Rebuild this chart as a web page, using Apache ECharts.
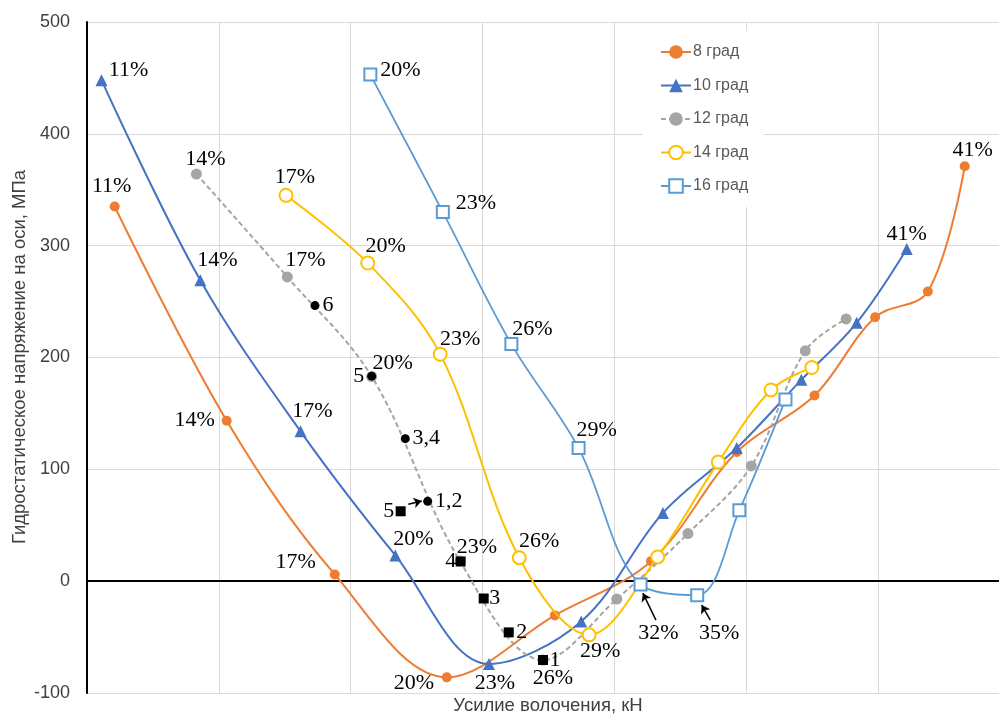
<!DOCTYPE html>
<html><head><meta charset="utf-8">
<script src="https://cdn.jsdelivr.net/npm/echarts@6/dist/echarts.min.js"></script>
<style>html,body{margin:0;padding:0;background:#fff}#c{width:999px;height:716px}</style>
</head><body><div id="c"></div>
<script>
// ---- data ----
const seriesNames = ['8 град', '10 град', '12 град', '14 град', '16 град'];

const pct8 = [11, 14, 17, 20, 23, 26, 29, 32, 35, 38, 41];
const x8 = [0.21, 1.06, 1.88, 2.73, 3.55, 4.28, 4.93, 5.52, 5.98, 6.38, 6.66];
const y8 = [335, 143.5, 6, -86, -30.6, 17.9, 115.5, 166, 236, 259, 371];

const pct10 = [11, 14, 17, 20, 23, 26, 29, 32, 35, 38, 41];
const x10 = [0.11, 0.86, 1.62, 2.34, 3.05, 3.75, 4.37, 4.93, 5.42, 5.84, 6.22];
const y10 = [448, 269, 134, 23, -74, -36, 61, 119, 180, 231, 297];

const pct12 = [14, 17, 20, 23, 26, 29, 32, 35, 38, 41];
const x12 = [0.83, 1.52, 2.16, 2.83, 3.46, 4.02, 4.56, 5.04, 5.45, 5.76];
const y12 = [364, 272, 183, 18, -70.5, -16, 42.6, 103, 206, 234.5];

const pct14 = [17, 20, 23, 26, 29, 32, 35, 38, 41];
const x14 = [1.51, 2.13, 2.68, 3.28, 3.81, 4.33, 4.79, 5.19, 5.50];
const y14 = [345, 284.5, 203, 21, -48, 21.7, 106.5, 171, 191];

const pct16 = [20, 23, 26, 29, 32, 35, 38, 41];
const x16 = [2.15, 2.70, 3.22, 3.73, 4.20, 4.63, 4.95, 5.30];
const y16 = [453, 330, 212, 119, -3, -12.5, 63.4, 162.5];

const circleNames = ['6', '5', '3,4', '1,2'];
const circleX = [1.73, 2.16, 2.415, 2.585];
const circleY = [246.4, 183.3, 127.4, 71.4];

const squareNames = ['5', '4', '3', '2', '1'];
const squareX = [2.38, 2.835, 3.01, 3.20, 3.46];
const squareY = [62.5, 17.6, -15.5, -45.8, -70.5];

const arrowFrom = [[2.438, 68.75], [4.317, -34.8], [4.73, -34.8]];
const arrowTo = [[2.54, 71.7], [4.218, -10.7], [4.664, -21.4]];

const yMin = -100, yMax = 500, yStep = 100;
const xMin = 0, xMax = 6.92, xStep = 1;

// ---- layout / style ----
const labelOffsets = {
  '8 град': {11: [-3, -20], 14: [-32, 0], 17: [-39, -12], 20: [-33, 6], 41: [8, -16]},
  '10 град': {11: [27, -10], 14: [17, -20], 17: [12, -20], 20: [18, -16], 23: [6, 19], 41: [0, -15]},
  '12 град': {14: [9, -15], 17: [18, -17], 20: [21, -13], 23: [17, -14], 26: [10, 18]},
  '14 град': {17: [9, -18], 20: [18, -17], 23: [20, -15], 26: [20, -16], 29: [11, 16]},
  '16 град': {20: [30, -4], 23: [33, -9], 26: [21, -15], 29: [18, -18], 32: [18, 49], 35: [22, 38]}
};
const circleLabelOffsets = [[13, 0], [-13, 0], [21, 0], [21, 0]];
const squareLabelOffsets = [[-12, 0], [-10, 0], [11, 0], [13, 0], [12, 0]];

const serif = "'Liberation Serif', 'Times New Roman', serif";
const sans = "'Liberation Sans', Arial, sans-serif";
const labelStyle = {fontFamily: serif, fontSize: 22, color: '#000', textBorderWidth: 0};

function buildData(name, pct, xs, ys) {
  const offs = labelOffsets[name];
  return xs.map((x, i) => {
    const off = offs[pct[i]];
    if (!off) return [x, ys[i]];
    return {value: [x, ys[i]], label: Object.assign({show: true, formatter: pct[i] + '%', position: 'inside', offset: off}, labelStyle)};
  });
}
function buildAnnot(names, xs, ys, offs) {
  return xs.map((x, i) => ({value: [x, ys[i]], label: Object.assign({show: true, formatter: names[i], position: 'inside', offset: offs[i]}, labelStyle)}));
}

const styles = [
  {color: '#ED7D31', symbol: 'circle', size: 10, dash: 'solid', width: 2},
  {color: '#4472C4', symbol: 'triangle', size: 12, dash: 'solid', width: 2},
  {color: '#A5A5A5', symbol: 'circle', size: 11, dash: [5, 3], width: 2},
  {color: '#FFC000', symbol: 'emptyCircle', size: 13, dash: 'solid', width: 2},
  {color: '#5B9BD5', symbol: 'emptyRect', size: 12, dash: 'solid', width: 1.8}
];
const raw = [[pct8, x8, y8], [pct10, x10, y10], [pct12, x12, y12], [pct14, x14, y14], [pct16, x16, y16]];

const lineSeries = seriesNames.map((name, k) => ({
  name: name,
  type: 'line',
  smooth: 0.35,
  symbol: styles[k].symbol,
  symbolSize: styles[k].size,
  lineStyle: {color: styles[k].color, width: styles[k].width, type: styles[k].dash},
  itemStyle: {color: styles[k].color, borderWidth: styles[k].symbol.startsWith('empty') ? 2 : 0},
  data: buildData(name, raw[k][0], raw[k][1], raw[k][2]),
  z: 2 + k
}));

const chart = echarts.init(document.getElementById('c'), null, {renderer: 'canvas'});
chart.setOption({
  animation: false,
  backgroundColor: '#fff',
  grid: {left: 87, right: 0, top: 22, bottom: 23, containLabel: false},
  xAxis: {
    type: 'value', min: xMin, max: xMax, interval: xStep,
    axisLine: {show: true, onZero: true, lineStyle: {color: '#000', width: 2}},
    axisTick: {show: false}, axisLabel: {show: false},
    splitLine: {show: true, lineStyle: {color: '#D9D9D9', width: 1}}
  },
  yAxis: {
    type: 'value', min: yMin, max: yMax, interval: yStep,
    axisLine: {show: true, lineStyle: {color: '#000', width: 2}},
    axisTick: {show: false},
    axisLabel: {fontFamily: sans, fontSize: 18, color: '#404040', margin: 17},
    splitLine: {show: true, lineStyle: {color: '#D9D9D9', width: 1}}
  },
  legend: {
    data: seriesNames, orient: 'vertical', left: 643, top: 31,
    padding: [13, 15, 13, 17], itemWidth: 30, itemHeight: 17, itemGap: 17.5,
    backgroundColor: '#fff',
    textStyle: {fontFamily: sans, fontSize: 16, color: '#595959', padding: [0, 0, 0, -3]}
  },
  graphic: [
    {type: 'text', x: 548, y: 706, style: {text: 'Усилие волочения, кН', font: '18.5px ' + sans, fill: '#404040', textAlign: 'center', textVerticalAlign: 'middle'}},
    {type: 'text', x: 20, y: 357, rotation: Math.PI / 2, style: {text: 'Гидростатическое напряжение на оси, МПа', font: '18.5px ' + sans, fill: '#404040', textAlign: 'center', textVerticalAlign: 'middle'}}
  ],
  series: lineSeries.concat([
    {
      name: 'annotCircles', type: 'scatter', symbol: 'circle', symbolSize: 9,
      itemStyle: {color: '#000', opacity: 1}, z: 10,
      data: buildAnnot(circleNames, circleX, circleY, circleLabelOffsets),
      markLine: {
        silent: true, symbol: ['none', 'arrow'], symbolSize: 8,
        lineStyle: {color: '#000', width: 1.5, type: 'solid'},
        label: {show: false},
        data: arrowFrom.map((f, i) => [{coord: f}, {coord: arrowTo[i]}])
      }
    },
    {
      name: 'annotSquares', type: 'scatter', symbol: 'rect', symbolSize: 10,
      itemStyle: {color: '#000', opacity: 1}, z: 10,
      data: buildAnnot(squareNames, squareX, squareY, squareLabelOffsets)
    }
  ])
});
</script>
</body></html>
